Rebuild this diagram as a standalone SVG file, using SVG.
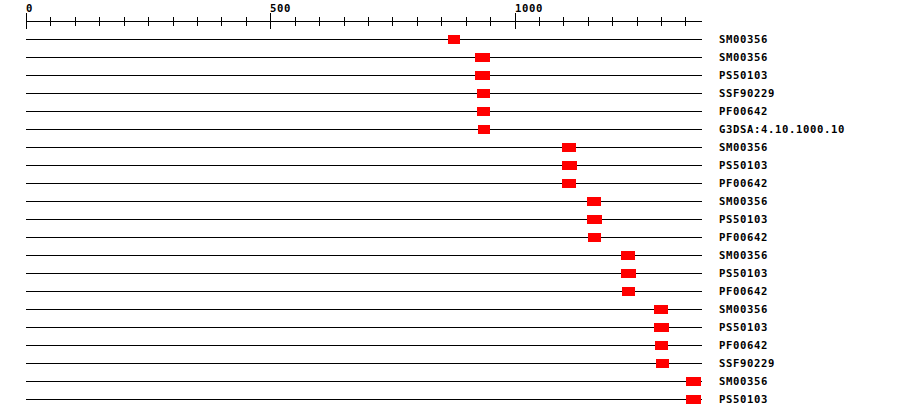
<svg xmlns="http://www.w3.org/2000/svg" width="900" height="418" viewBox="0 0 900 418">
<style>
.ln{stroke:#000;stroke-width:1;fill:none;shape-rendering:crispEdges}
.dm{fill:#ff0000;shape-rendering:crispEdges}
.lb{font-family:"DejaVu Sans Mono","Liberation Mono",monospace;font-weight:bold;font-size:10.6px;letter-spacing:0.62px;fill:#000}
</style>
<rect width="900" height="418" fill="#fff"/>
<g id="axis">
<path class="ln" d="M26,21.5H702M26.5,13V29M270.5,13V29M515.5,13V29M50.5,17V26M75.5,17V26M99.5,17V26M124.5,17V26M148.5,17V26M173.5,17V26M197.5,17V26M221.5,17V26M246.5,17V26M295.5,17V26M319.5,17V26M344.5,17V26M368.5,17V26M392.5,17V26M417.5,17V26M441.5,17V26M466.5,17V26M490.5,17V26M539.5,17V26M563.5,17V26M588.5,17V26M612.5,17V26M637.5,17V26M661.5,17V26M685.5,17V26"/>
<text class="lb" x="26" y="12">0</text>
<text class="lb" x="270" y="12">500</text>
<text class="lb" x="515" y="12">1000</text>
</g>
<g id="connectors">
<path class="ln" d="M26,39.5H702M26,57.5H702M26,75.5H702M26,93.5H702M26,111.5H702M26,129.5H702M26,147.5H702M26,165.5H702M26,183.5H702M26,201.5H702M26,219.5H702M26,237.5H702M26,255.5H702M26,273.5H702M26,291.5H702M26,309.5H702M26,327.5H702M26,345.5H702M26,363.5H702M26,381.5H702M26,399.5H702"/>
</g>
<g id="row1"><rect class="dm" x="448" y="35" width="12" height="9"/><text class="lb" x="719" y="43">SM00356</text></g>
<g id="row2"><rect class="dm" x="475" y="53" width="15" height="9"/><text class="lb" x="719" y="61">SM00356</text></g>
<g id="row3"><rect class="dm" x="475" y="71" width="15" height="9"/><text class="lb" x="719" y="79">PS50103</text></g>
<g id="row4"><rect class="dm" x="477" y="89" width="13" height="9"/><text class="lb" x="719" y="97">SSF90229</text></g>
<g id="row5"><rect class="dm" x="477" y="107" width="13" height="9"/><text class="lb" x="719" y="115">PF00642</text></g>
<g id="row6"><rect class="dm" x="478" y="125" width="12" height="9"/><text class="lb" x="719" y="133">G3DSA:4.10.1000.10</text></g>
<g id="row7"><rect class="dm" x="562" y="143" width="14" height="9"/><text class="lb" x="719" y="151">SM00356</text></g>
<g id="row8"><rect class="dm" x="562" y="161" width="15" height="9"/><text class="lb" x="719" y="169">PS50103</text></g>
<g id="row9"><rect class="dm" x="562" y="179" width="14" height="9"/><text class="lb" x="719" y="187">PF00642</text></g>
<g id="row10"><rect class="dm" x="587" y="197" width="14" height="9"/><text class="lb" x="719" y="205">SM00356</text></g>
<g id="row11"><rect class="dm" x="587" y="215" width="15" height="9"/><text class="lb" x="719" y="223">PS50103</text></g>
<g id="row12"><rect class="dm" x="588" y="233" width="13" height="9"/><text class="lb" x="719" y="241">PF00642</text></g>
<g id="row13"><rect class="dm" x="621" y="251" width="14" height="9"/><text class="lb" x="719" y="259">SM00356</text></g>
<g id="row14"><rect class="dm" x="621" y="269" width="15" height="9"/><text class="lb" x="719" y="277">PS50103</text></g>
<g id="row15"><rect class="dm" x="622" y="287" width="13" height="9"/><text class="lb" x="719" y="295">PF00642</text></g>
<g id="row16"><rect class="dm" x="654" y="305" width="14" height="9"/><text class="lb" x="719" y="313">SM00356</text></g>
<g id="row17"><rect class="dm" x="654" y="323" width="15" height="9"/><text class="lb" x="719" y="331">PS50103</text></g>
<g id="row18"><rect class="dm" x="655" y="341" width="13" height="9"/><text class="lb" x="719" y="349">PF00642</text></g>
<g id="row19"><rect class="dm" x="656" y="359" width="13" height="9"/><text class="lb" x="719" y="367">SSF90229</text></g>
<g id="row20"><rect class="dm" x="686" y="377" width="15" height="9"/><text class="lb" x="719" y="385">SM00356</text></g>
<g id="row21"><rect class="dm" x="686" y="395" width="15" height="9"/><text class="lb" x="719" y="403">PS50103</text></g>
</svg>
